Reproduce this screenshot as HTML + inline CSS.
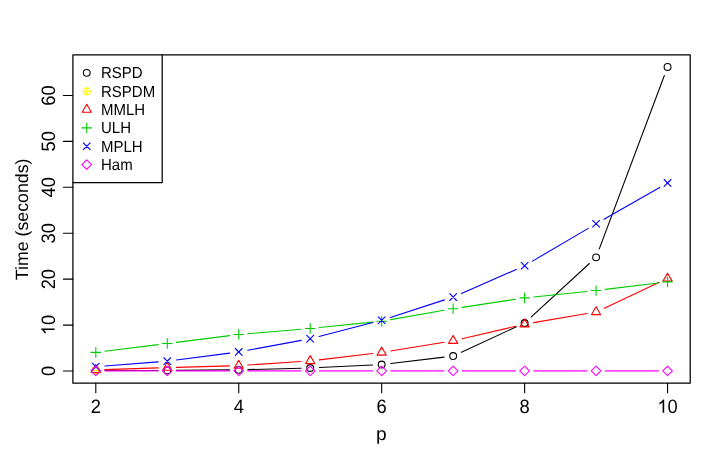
<!DOCTYPE html>
<html><head><meta charset="utf-8"><title>plot</title><style>html,body{margin:0;padding:0;background:#fff}body{width:708px;height:456px;overflow:hidden;font-family:"Liberation Sans",sans-serif}svg{will-change:transform}text{text-rendering:geometricPrecision}</style></head><body>
<svg width="708" height="456" viewBox="0 0 708 456" style="display:block" font-family="Liberation Sans, sans-serif">
<rect width="708" height="456" fill="#fff"/>
<path d="M104.90 370.56L158.17 370.49M176.37 370.40L229.64 369.92M247.84 369.60L301.11 368.23M319.30 367.55L372.59 364.95M390.72 363.44L444.11 357.13M461.41 352.24L516.36 326.81M531.32 316.83L589.39 263.51M599.29 248.83L664.36 75.49" stroke="#000000" stroke-width="1.1" fill="none" stroke-linecap="round"/>
<circle cx="95.80" cy="370.57" r="3.41" stroke="#000000" stroke-width="1.1" fill="none" stroke-linecap="round" stroke-linejoin="round"/>
<circle cx="167.27" cy="370.48" r="3.41" stroke="#000000" stroke-width="1.1" fill="none" stroke-linecap="round" stroke-linejoin="round"/>
<circle cx="238.74" cy="369.84" r="3.41" stroke="#000000" stroke-width="1.1" fill="none" stroke-linecap="round" stroke-linejoin="round"/>
<circle cx="310.21" cy="368.00" r="3.41" stroke="#000000" stroke-width="1.1" fill="none" stroke-linecap="round" stroke-linejoin="round"/>
<circle cx="381.68" cy="364.51" r="3.41" stroke="#000000" stroke-width="1.1" fill="none" stroke-linecap="round" stroke-linejoin="round"/>
<circle cx="453.15" cy="356.06" r="3.41" stroke="#000000" stroke-width="1.1" fill="none" stroke-linecap="round" stroke-linejoin="round"/>
<circle cx="524.62" cy="322.99" r="3.41" stroke="#000000" stroke-width="1.1" fill="none" stroke-linecap="round" stroke-linejoin="round"/>
<circle cx="596.09" cy="257.35" r="3.41" stroke="#000000" stroke-width="1.1" fill="none" stroke-linecap="round" stroke-linejoin="round"/>
<circle cx="667.56" cy="66.97" r="3.41" stroke="#000000" stroke-width="1.1" fill="none" stroke-linecap="round" stroke-linejoin="round"/>
<circle cx="95.80" cy="370.57" r="3.41" stroke="#FFFF00" stroke-width="1.1" fill="none" stroke-linecap="round" stroke-linejoin="round"/><path d="M92.39 370.57H99.21M95.80 367.16V373.98" stroke="#FFFF00" stroke-width="1.1" fill="none" stroke-linecap="round" stroke-linejoin="round"/>
<path d="M104.90 369.59L158.17 367.88M176.37 367.33L229.64 365.86M247.82 365.02L301.13 361.52M319.25 359.85L372.64 353.50M390.66 350.96L444.17 342.19M462.02 338.67L515.75 326.23M533.59 322.65L587.12 313.54M604.33 308.15L659.32 282.35" stroke="#FF0000" stroke-width="1.1" fill="none" stroke-linecap="round"/>
<path d="M95.80 364.57L100.40 372.54L91.20 372.54Z" stroke="#FF0000" stroke-width="1.1" fill="none" stroke-linecap="round" stroke-linejoin="round"/>
<path d="M167.27 362.28L171.87 370.24L162.67 370.24Z" stroke="#FF0000" stroke-width="1.1" fill="none" stroke-linecap="round" stroke-linejoin="round"/>
<path d="M238.74 360.30L243.34 368.26L234.14 368.26Z" stroke="#FF0000" stroke-width="1.1" fill="none" stroke-linecap="round" stroke-linejoin="round"/>
<path d="M310.21 355.62L314.81 363.58L305.61 363.58Z" stroke="#FF0000" stroke-width="1.1" fill="none" stroke-linecap="round" stroke-linejoin="round"/>
<path d="M381.68 347.12L386.28 355.08L377.08 355.08Z" stroke="#FF0000" stroke-width="1.1" fill="none" stroke-linecap="round" stroke-linejoin="round"/>
<path d="M453.15 335.41L457.75 343.37L448.55 343.37Z" stroke="#FF0000" stroke-width="1.1" fill="none" stroke-linecap="round" stroke-linejoin="round"/>
<path d="M524.62 318.87L529.22 326.83L520.02 326.83Z" stroke="#FF0000" stroke-width="1.1" fill="none" stroke-linecap="round" stroke-linejoin="round"/>
<path d="M596.09 306.70L600.69 314.66L591.49 314.66Z" stroke="#FF0000" stroke-width="1.1" fill="none" stroke-linecap="round" stroke-linejoin="round"/>
<path d="M667.56 273.17L672.16 281.13L662.96 281.13Z" stroke="#FF0000" stroke-width="1.1" fill="none" stroke-linecap="round" stroke-linejoin="round"/>
<path d="M104.83 351.26L158.24 344.60M176.30 342.33L229.71 335.61M247.81 333.71L301.14 329.26M319.26 327.57L372.63 322.12M390.65 319.63L444.18 310.31M462.15 307.38L515.62 299.23M533.67 296.93L587.04 291.45M605.12 289.42L658.53 282.93" stroke="#00CD00" stroke-width="1.1" fill="none" stroke-linecap="round"/>
<path d="M90.97 352.38H100.63M95.80 347.56V357.21" stroke="#00CD00" stroke-width="1.1" fill="none" stroke-linecap="round" stroke-linejoin="round"/>
<path d="M162.44 343.47H172.10M167.27 338.65V348.30" stroke="#00CD00" stroke-width="1.1" fill="none" stroke-linecap="round" stroke-linejoin="round"/>
<path d="M233.91 334.47H243.57M238.74 329.64V339.30" stroke="#00CD00" stroke-width="1.1" fill="none" stroke-linecap="round" stroke-linejoin="round"/>
<path d="M305.38 328.50H315.04M310.21 323.67V333.32" stroke="#00CD00" stroke-width="1.1" fill="none" stroke-linecap="round" stroke-linejoin="round"/>
<path d="M376.85 321.20H386.51M381.68 316.37V326.02" stroke="#00CD00" stroke-width="1.1" fill="none" stroke-linecap="round" stroke-linejoin="round"/>
<path d="M448.32 308.75H457.98M453.15 303.92V313.57" stroke="#00CD00" stroke-width="1.1" fill="none" stroke-linecap="round" stroke-linejoin="round"/>
<path d="M519.79 297.86H529.45M524.62 293.04V302.69" stroke="#00CD00" stroke-width="1.1" fill="none" stroke-linecap="round" stroke-linejoin="round"/>
<path d="M591.26 290.51H600.92M596.09 285.69V295.34" stroke="#00CD00" stroke-width="1.1" fill="none" stroke-linecap="round" stroke-linejoin="round"/>
<path d="M662.73 281.83H672.39M667.56 277.01V286.66" stroke="#00CD00" stroke-width="1.1" fill="none" stroke-linecap="round" stroke-linejoin="round"/>
<path d="M104.87 365.93L158.20 361.85M176.30 359.99L229.71 353.09M247.69 350.27L301.26 340.39M319.02 336.47L372.87 322.55M390.34 317.47L444.49 299.89M461.48 293.43L516.29 269.41M532.47 261.15L588.24 228.39M603.99 219.26L659.66 187.42" stroke="#0000FF" stroke-width="1.1" fill="none" stroke-linecap="round"/>
<path d="M92.39 363.21L99.21 370.03M92.39 370.03L99.21 363.21" stroke="#0000FF" stroke-width="1.1" fill="none" stroke-linecap="round" stroke-linejoin="round"/>
<path d="M163.86 357.74L170.68 364.57M163.86 364.57L170.68 357.74" stroke="#0000FF" stroke-width="1.1" fill="none" stroke-linecap="round" stroke-linejoin="round"/>
<path d="M235.33 348.51L242.15 355.34M235.33 355.34L242.15 348.51" stroke="#0000FF" stroke-width="1.1" fill="none" stroke-linecap="round" stroke-linejoin="round"/>
<path d="M306.80 335.33L313.62 342.15M306.80 342.15L313.62 335.33" stroke="#0000FF" stroke-width="1.1" fill="none" stroke-linecap="round" stroke-linejoin="round"/>
<path d="M378.27 316.86L385.09 323.69M378.27 323.69L385.09 316.86" stroke="#0000FF" stroke-width="1.1" fill="none" stroke-linecap="round" stroke-linejoin="round"/>
<path d="M449.74 293.67L456.56 300.50M449.74 300.50L456.56 293.67" stroke="#0000FF" stroke-width="1.1" fill="none" stroke-linecap="round" stroke-linejoin="round"/>
<path d="M521.21 262.35L528.03 269.17M521.21 269.17L528.03 262.35" stroke="#0000FF" stroke-width="1.1" fill="none" stroke-linecap="round" stroke-linejoin="round"/>
<path d="M592.68 220.37L599.50 227.19M592.68 227.19L599.50 220.37" stroke="#0000FF" stroke-width="1.1" fill="none" stroke-linecap="round" stroke-linejoin="round"/>
<path d="M664.15 179.49L670.97 186.31M664.15 186.31L670.97 179.49" stroke="#0000FF" stroke-width="1.1" fill="none" stroke-linecap="round" stroke-linejoin="round"/>
<path d="M104.90 370.85L158.17 370.85M176.37 370.85L229.64 370.85M247.84 370.85L301.11 370.85M319.31 370.85L372.58 370.85M390.78 370.85L444.05 370.85M462.25 370.85L515.52 370.85M533.72 370.85L586.99 370.85M605.19 370.85L658.46 370.85" stroke="#FF00FF" stroke-width="1.1" fill="none" stroke-linecap="round"/>
<path d="M90.97 370.85L95.80 366.02L100.63 370.85L95.80 375.67Z" stroke="#FF00FF" stroke-width="1.1" fill="none" stroke-linecap="round" stroke-linejoin="round"/>
<path d="M162.44 370.85L167.27 366.02L172.10 370.85L167.27 375.67Z" stroke="#FF00FF" stroke-width="1.1" fill="none" stroke-linecap="round" stroke-linejoin="round"/>
<path d="M233.91 370.85L238.74 366.02L243.57 370.85L238.74 375.67Z" stroke="#FF00FF" stroke-width="1.1" fill="none" stroke-linecap="round" stroke-linejoin="round"/>
<path d="M305.38 370.85L310.21 366.02L315.04 370.85L310.21 375.67Z" stroke="#FF00FF" stroke-width="1.1" fill="none" stroke-linecap="round" stroke-linejoin="round"/>
<path d="M376.85 370.85L381.68 366.02L386.51 370.85L381.68 375.67Z" stroke="#FF00FF" stroke-width="1.1" fill="none" stroke-linecap="round" stroke-linejoin="round"/>
<path d="M448.32 370.85L453.15 366.02L457.98 370.85L453.15 375.67Z" stroke="#FF00FF" stroke-width="1.1" fill="none" stroke-linecap="round" stroke-linejoin="round"/>
<path d="M519.79 370.85L524.62 366.02L529.45 370.85L524.62 375.67Z" stroke="#FF00FF" stroke-width="1.1" fill="none" stroke-linecap="round" stroke-linejoin="round"/>
<path d="M591.26 370.85L596.09 366.02L600.92 370.85L596.09 375.67Z" stroke="#FF00FF" stroke-width="1.1" fill="none" stroke-linecap="round" stroke-linejoin="round"/>
<path d="M662.73 370.85L667.56 366.02L672.39 370.85L667.56 375.67Z" stroke="#FF00FF" stroke-width="1.1" fill="none" stroke-linecap="round" stroke-linejoin="round"/>
<path d="M95.80 383.2v9.5M238.74 383.2v9.5M381.68 383.2v9.5M524.62 383.2v9.5M667.56 383.2v9.5" stroke="#000" stroke-width="1.1" fill="none" stroke-linecap="round" stroke-linejoin="round"/>
<path d="M72.9 371.03h-9.5M72.9 325.10h-9.5M72.9 279.17h-9.5M72.9 233.24h-9.5M72.9 187.31h-9.5M72.9 141.38h-9.5M72.9 95.45h-9.5" stroke="#000" stroke-width="1.1" fill="none" stroke-linecap="round" stroke-linejoin="round"/>
<text transform="translate(95.80 412.85) scale(1 1.06)" font-size="18.33" text-anchor="middle" fill="#000">2</text>
<text transform="translate(238.74 412.85) scale(1 1.06)" font-size="18.33" text-anchor="middle" fill="#000">4</text>
<text transform="translate(381.68 412.85) scale(1 1.06)" font-size="18.33" text-anchor="middle" fill="#000">6</text>
<text transform="translate(524.62 412.85) scale(1 1.06)" font-size="18.33" text-anchor="middle" fill="#000">8</text>
<g transform="translate(667.56 412.85)"><path transform="translate(-10.19 0) scale(0.00895 -0.00911)" d="M763 0H583V1147Q518 1085 412.5 1023T223 930V1104Q373 1174.5 485 1275T644 1466H763Z" fill="#000"/><text transform="scale(1 1.06)" font-size="18.33" text-anchor="start" fill="#000">0</text></g>
<text transform="translate(54.60 371.03) rotate(-90) scale(1 1.06)" font-size="18.33" text-anchor="middle" fill="#000">0</text>
<g transform="translate(54.60 325.10) rotate(-90)"><path transform="translate(-10.19 0) scale(0.00895 -0.00911)" d="M763 0H583V1147Q518 1085 412.5 1023T223 930V1104Q373 1174.5 485 1275T644 1466H763Z" fill="#000"/><text transform="scale(1 1.06)" font-size="18.33" text-anchor="start" fill="#000">0</text></g>
<text transform="translate(54.60 279.17) rotate(-90) scale(1 1.06)" font-size="18.33" text-anchor="middle" fill="#000">20</text>
<text transform="translate(54.60 233.24) rotate(-90) scale(1 1.06)" font-size="18.33" text-anchor="middle" fill="#000">30</text>
<text transform="translate(54.60 187.31) rotate(-90) scale(1 1.06)" font-size="18.33" text-anchor="middle" fill="#000">40</text>
<text transform="translate(54.60 141.38) rotate(-90) scale(1 1.06)" font-size="18.33" text-anchor="middle" fill="#000">50</text>
<text transform="translate(54.60 95.45) rotate(-90) scale(1 1.06)" font-size="18.33" text-anchor="middle" fill="#000">60</text>
<text transform="translate(381.25 439.85) scale(1.08 1.03)" font-size="17.75" text-anchor="middle" fill="#000">p</text>
<text transform="translate(27.85 219.30) rotate(-90) scale(1 1.0)" font-size="17.75" text-anchor="middle" fill="#000">Time (seconds)</text>
<rect x="72.9" y="54.8" width="89.29999999999998" height="127.7" fill="#fff"/>
<path d="M162.2 54.8V182.5H72.9" stroke="#000" stroke-width="1.25" fill="none" stroke-linecap="round" stroke-linejoin="round"/>
<circle cx="86.75" cy="72.87" r="3.41" stroke="#000000" stroke-width="1.1" fill="none" stroke-linecap="round" stroke-linejoin="round"/>
<text transform="translate(101.00 78.37) scale(1 1.06)" font-size="15.0" text-anchor="start" fill="#000">RSPD</text>
<circle cx="86.75" cy="91.22" r="3.41" stroke="#FFFF00" stroke-width="1.1" fill="none" stroke-linecap="round" stroke-linejoin="round"/><path d="M83.34 91.22H90.16M86.75 87.81V94.63" stroke="#FFFF00" stroke-width="1.1" fill="none" stroke-linecap="round" stroke-linejoin="round"/>
<text transform="translate(101.00 96.72) scale(1 1.06)" font-size="15.0" text-anchor="start" fill="#000">RSPDM</text>
<path d="M86.75 104.26L91.35 112.22L82.15 112.22Z" stroke="#FF0000" stroke-width="1.1" fill="none" stroke-linecap="round" stroke-linejoin="round"/>
<text transform="translate(101.00 115.07) scale(1 1.06)" font-size="15.0" text-anchor="start" fill="#000">MMLH</text>
<path d="M81.92 127.92H91.58M86.75 123.09V132.75" stroke="#00CD00" stroke-width="1.1" fill="none" stroke-linecap="round" stroke-linejoin="round"/>
<text transform="translate(101.00 133.42) scale(1 1.06)" font-size="15.0" text-anchor="start" fill="#000">ULH</text>
<path d="M83.34 142.86L90.16 149.68M83.34 149.68L90.16 142.86" stroke="#0000FF" stroke-width="1.1" fill="none" stroke-linecap="round" stroke-linejoin="round"/>
<text transform="translate(101.00 151.77) scale(1 1.06)" font-size="15.0" text-anchor="start" fill="#000">MPLH</text>
<path d="M81.92 164.62L86.75 159.79L91.58 164.62L86.75 169.45Z" stroke="#FF00FF" stroke-width="1.1" fill="none" stroke-linecap="round" stroke-linejoin="round"/>
<text transform="translate(101.00 170.12) scale(1 1.06)" font-size="15.0" text-anchor="start" fill="#000">Ham</text>
<rect x="72.9" y="54.8" width="617.3000000000001" height="328.4" stroke="#000" stroke-width="1.25" fill="none" stroke-linecap="round" stroke-linejoin="round"/>
</svg>
</body></html>
